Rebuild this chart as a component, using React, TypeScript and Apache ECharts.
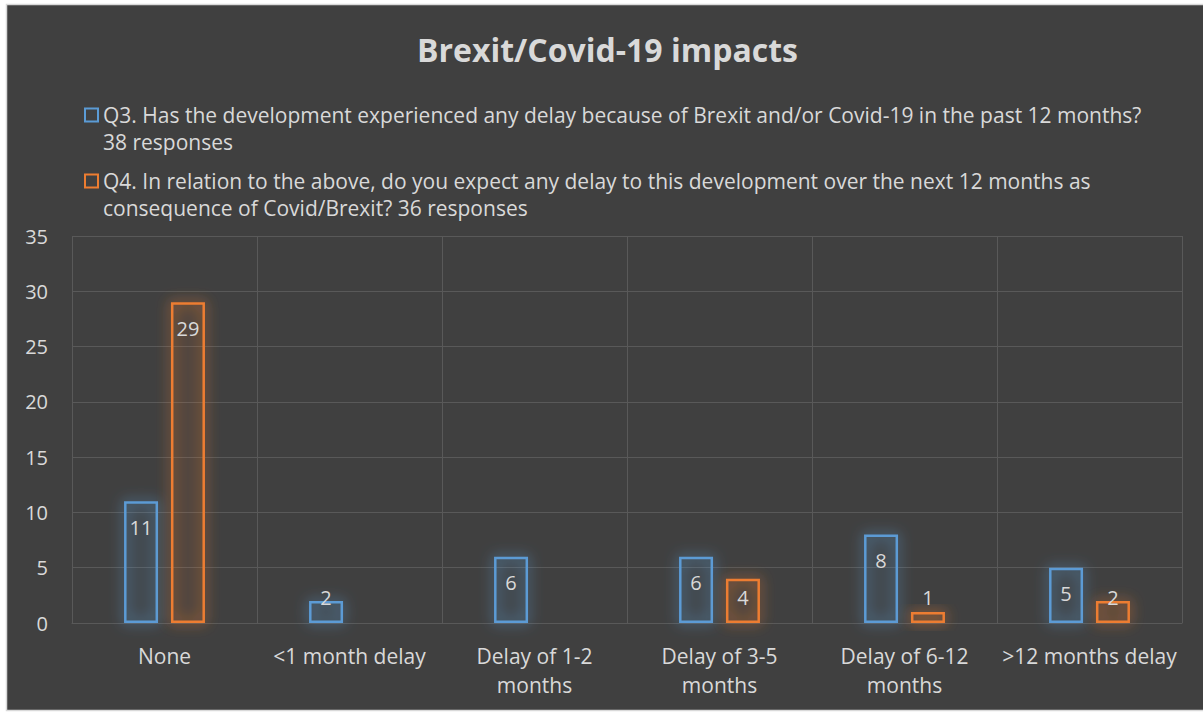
import React, { useEffect, useRef } from "react";
import * as echarts from "echarts";

const title = "Brexit/Covid-19 impacts";
const categories = [
  "None",
  "<1 month delay",
  "Delay of 1-2 months",
  "Delay of 3-5 months",
  "Delay of 6-12 months",
  ">12 months delay",
];
const q3Name =
  "Q3. Has the development experienced any delay because of Brexit and/or Covid-19 in the past 12 months? 38 responses";
const q4Name =
  "Q4. In relation to the above, do you expect any delay to this development over the next 12 months as consequence of Covid/Brexit? 36 responses";
const q3Values: (number | null)[] = [11, 2, 6, 6, 8, 5];
const q4Values: (number | null)[] = [29, null, null, 4, 1, 2];
const yTicks = { min: 0, max: 35, interval: 5 };

const BLUE = "#5b9bd5";
const ORANGE = "#ed7d31";
const TEXT = "#d9d9d9";
const FONT = "'Open Sans', sans-serif";

function seriesData(vals: (number | null)[]) {
  return vals.map((v) =>
    v === null
      ? null
      : {
          value: v,
          label: {
            position: v >= 5 ? "insideTop" : "insideBottom",
            distance: 16,
          },
        }
  );
}

export default function App() {
  const ref = useRef<HTMLDivElement>(null);
  useEffect(() => {
    if (!ref.current) return;
    const chart = echarts.init(ref.current, null, { renderer: "svg" });
    const barLabel = {
      show: true,
      color: TEXT,
      fontFamily: FONT,
      fontSize: 20,
    };
    chart.setOption({
      animation: false,
      backgroundColor: "#ffffff",
      graphic: [
        {
          type: "rect",
          z: -10,
          silent: true,
          shape: { x: 6.5, y: 4.5, width: 1205, height: 706 },
          style: { fill: "#404040", stroke: "#d9d9d9", lineWidth: 1.5 },
        },
      ],
      title: {
        text: title,
        left: 412,
        top: 28,
        textStyle: {
          color: TEXT,
          fontFamily: FONT,
          fontWeight: "bold",
          fontSize: 32,
        },
      },
      legend: {
        orient: "vertical",
        left: 84,
        top: 74.5,
        padding: 0,
        itemGap: -15,
        itemWidth: 13,
        itemHeight: 13,
        icon: "rect",
        formatter: (name: string) => "\n" + name,
        textStyle: {
          color: TEXT,
          fontFamily: FONT,
          fontSize: 21,
          lineHeight: 27,
          width: 1050,
          overflow: "break",
        },
        data: [
          {
            name: q3Name,
            itemStyle: { color: "transparent", borderColor: BLUE, borderWidth: 2 },
          },
          {
            name: q4Name,
            itemStyle: { color: "transparent", borderColor: ORANGE, borderWidth: 2 },
          },
        ],
      },
      grid: { left: 72, right: 21, top: 236, bottom: 90, containLabel: false },
      xAxis: {
        type: "category",
        data: categories,
        axisLine: { show: true, lineStyle: { color: "#595959", width: 1 } },
        axisTick: { show: false },
        splitLine: { show: true, lineStyle: { color: "#595959", width: 1 } },
        axisLabel: {
          color: TEXT,
          fontFamily: FONT,
          fontSize: 21,
          lineHeight: 29,
          margin: 18,
          interval: 0,
          formatter: (v: string) =>
            v.startsWith("Delay") ? v.replace(" months", "\nmonths") : v,
        },
      },
      yAxis: {
        type: "value",
        min: yTicks.min,
        max: yTicks.max,
        interval: yTicks.interval,
        axisLine: { show: false },
        axisTick: { show: false },
        splitLine: { show: true, lineStyle: { color: "#595959", width: 1 } },
        axisLabel: {
          color: TEXT,
          fontFamily: FONT,
          fontSize: 20,
          margin: 24,
        },
      },
      series: [
        {
          name: q3Name,
          type: "bar",
          data: seriesData(q3Values),
          barWidth: 34,
          barGap: "38%",
          itemStyle: {
            color: "rgba(91,155,213,0.05)",
            borderColor: BLUE,
            borderWidth: 2.5,
            shadowBlur: 14,
            shadowColor: "rgba(91,155,213,1)",
          },
          label: barLabel,
        },
        {
          name: q4Name,
          type: "bar",
          data: seriesData(q4Values),
          barWidth: 34,
          barGap: "38%",
          itemStyle: {
            color: "rgba(237,125,49,0.05)",
            borderColor: ORANGE,
            borderWidth: 2.5,
            shadowBlur: 14,
            shadowColor: "rgba(237,125,49,1)",
          },
          label: barLabel,
        },
      ],
    });
    return () => chart.dispose();
  }, []);
  return (
    <div
      ref={ref}
      style={{ position: "absolute", left: 0, top: 0, width: 1203, height: 713 }}
    />
  );
}
